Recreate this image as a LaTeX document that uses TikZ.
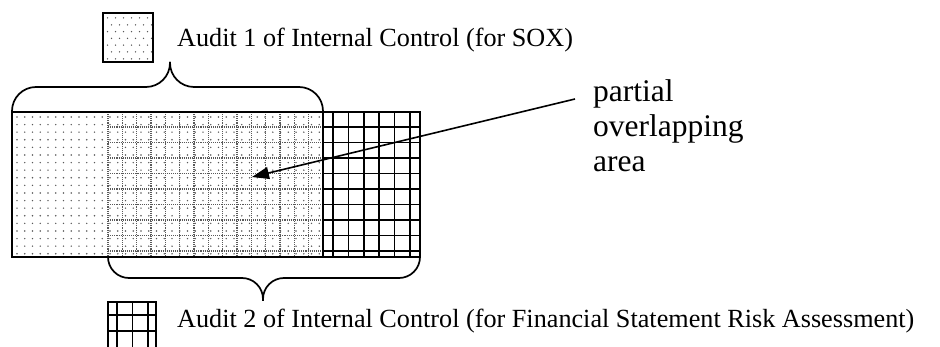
\documentclass[tikz,border=0pt]{standalone}
\usepackage{fontspec}
\setmainfont{Liberation Serif}
\usetikzlibrary{arrows.meta}
\tikzset{
  dotfill/.style={fill=black!65},
  mixline/.style={draw=black!65, densely dotted, line width=1.1pt},
  gridline/.style={draw=black, line width=1.6pt},
  outline/.style={draw=black, line width=2pt},
  bracepath/.style={draw=black, line width=1.7pt},
  legendtext/.style={anchor=base west, inner sep=0pt, font=\fontsize{26.2}{30}\selectfont},
  bigtext/.style={anchor=base west, inner sep=0pt, font=\fontsize{31.5}{35}\selectfont},
  pointer/.style={draw=black, line width=1.6pt, -{Triangle[length=17pt,width=12pt]}}
}
\begin{document}
\begin{tikzpicture}[x=1pt,y=-1pt]
\useasboundingbox (0,0) rectangle (940,347);
\fill[white] (0,0) rectangle (940,347);

% ---- dotted area (Audit 1)
\foreach \i in {0,...,39}
  \foreach \j in {0,...,18}
    \fill[dotfill] ({17+\i*7.75}, {117+\j*7.6}) circle (0.8);

% ---- overlapping area grid (faint)
\foreach \k in {0,...,14}
  \draw[mixline] ({108+\k*14.33},112) -- ({108+\k*14.33},257);
\foreach \y in {127,142.5,158,173.5,189,204.5,220,235.5,251}
  \draw[mixline] (108,\y) -- (323,\y);

% ---- grid-only area (Audit 2)
\foreach \x in {333,348.4,363.8,379.2,394.6,410}
  \draw[gridline] (\x,112) -- (\x,257);
\foreach \y in {127,142.5,158,173.5,189,204.5,220,235.5,251}
  \draw[gridline] (323,\y) -- (420,\y);
\draw[gridline] (323,112) -- (323,257);

% ---- outer rectangle
\draw[outline] (12,112) rectangle (420,257);

% ---- top brace
\draw[bracepath, rounded corners=24pt] (12,112) -- (12,87) -- (170,87) -- (170,62);
\draw[bracepath, rounded corners=24pt] (170,62) -- (170,87) -- (323,87) -- (323,112);

% ---- bottom brace
\draw[bracepath, rounded corners=21pt] (108,257) -- (108,278) -- (263,278) -- (263,301);
\draw[bracepath, rounded corners=21pt] (263,301) -- (263,278) -- (420,278) -- (420,257);

% ---- legend 1 (dots)
\foreach \j in {0,...,6}
  \foreach \i in {0,...,5}
    \fill[dotfill] ({107.5+\i*8+mod(\j,2)*4}, {18+\j*6.8}) circle (0.75);
\draw[line width=2pt] (103,13) rectangle (153,62);
\node[legendtext] (leg1) at (177,47) {Audit 1 of Internal Control (for SOX)};

% ---- legend 2 (grid)
\foreach \x in {117,132.5,148}
  \draw[gridline] (\x,302) -- (\x,347);
\foreach \y in {315,331}
  \draw[gridline] (108,\y) -- (156,\y);
\draw[line width=2pt] (108,348) -- (108,302) -- (156,302) -- (156,348);
\node[legendtext] (leg2) at (177,327) {Audit 2 of Internal Control (for Financial Statement Risk Assessment)};

% ---- label and arrow
\node[bigtext] (p1) at (593,102) {partial};
\node[bigtext] (p2) at (593,137) {overlapping};
\node[bigtext] (p3) at (593,172) {area};
\coordinate (arrowstart) at (575,99);
\coordinate (arrowtip) at (252,177);
\draw[pointer] (arrowstart) -- (arrowtip);
\end{tikzpicture}
\end{document}
